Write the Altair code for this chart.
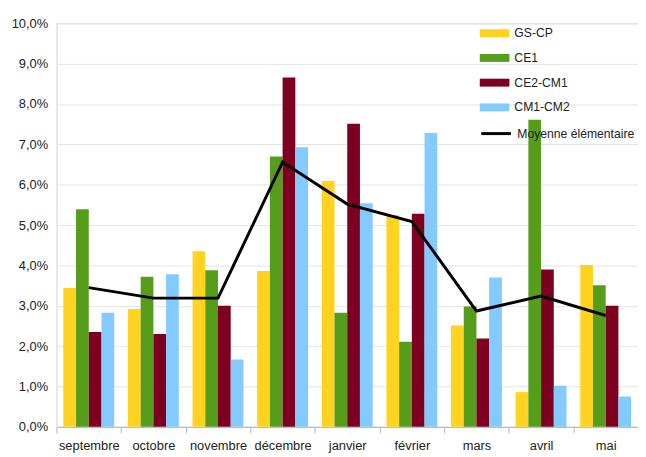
import altair as alt
import pandas as pd

months = ["septembre", "octobre", "novembre", "décembre", "janvier",
          "février", "mars", "avril", "mai"]
series = ["GS-CP", "CE1", "CE2-CM1", "CM1-CM2"]
colors = ["#FFD320", "#579D1C", "#7E0021", "#83CAFF"]

gs_cp = [3.44, 2.92, 4.35, 3.86, 6.09, 5.25, 2.51, 0.86, 4.01]
ce1 = [5.39, 3.72, 3.88, 6.70, 2.83, 2.11, 2.98, 7.61, 3.51]
ce2_cm1 = [2.35, 2.30, 3.00, 8.66, 7.51, 5.28, 2.19, 3.90, 3.00]
cm1_cm2 = [2.83, 3.78, 1.67, 6.93, 5.54, 7.28, 3.70, 1.02, 0.75]
moyenne = [3.45, 3.19, 3.19, 6.56, 5.52, 5.09, 2.87, 3.24, 2.76]
line_name = "Moyenne élémentaire"

rows = []
for name, vals in zip(series, [gs_cp, ce1, ce2_cm1, cm1_cm2]):
    for m, v in zip(months, vals):
        rows.append({"month": m, "series": name, "value": v})
bars_df = pd.DataFrame(rows)
line_df = pd.DataFrame({"month": months, "value": moyenne, "name": line_name})

FONT = "Liberation Sans"
TXT = "#222222"

x_enc = alt.X(
    "month:N", sort=months,
    scale=alt.Scale(paddingInner=0, paddingOuter=0),
    axis=alt.Axis(title=None, labelAngle=0, tickBand="extent", ticks=True,
                  tickSize=6, tickColor="#b3b3b3", domainColor="#b3b3b3",
                  labelFont=FONT, labelFontSize=13, labelColor=TXT,
                  labelPadding=7, grid=False),
)
y_enc = alt.Y(
    "value:Q",
    scale=alt.Scale(domain=[0, 10], nice=False),
    axis=alt.Axis(title=None, values=list(range(0, 11)), ticks=False,
                  labelExpr="replace(format(datum.value, '.1f'), '.', ',') + '%'",
                  labelFont=FONT, labelFontSize=13, labelColor=TXT,
                  labelPadding=9, grid=True, gridColor="#e3e3e3",
                  domainColor="#e3e3e3"),
)

rect_path = "M-1.5,-0.4H1.5V0.4H-1.5Z"

bars = alt.Chart(bars_df).mark_bar().encode(
    x=x_enc,
    y=y_enc,
    xOffset=alt.XOffset("series:N", sort=series,
                        scale=alt.Scale(paddingInner=0, paddingOuter=0.54)),
    color=alt.Color(
        "series:N", sort=series,
        scale=alt.Scale(domain=series, range=colors),
        legend=alt.Legend(title=None, orient="none", legendX=433, legendY=0,
                          symbolType=rect_path, symbolSize=400,
                          symbolStrokeWidth=0, labelFont=FONT,
                          labelFontSize=12.3, labelColor=TXT, labelOffset=10,
                          rowPadding=8, padding=0),
    ),
)

line = alt.Chart(line_df).mark_line(strokeWidth=3).encode(
    x=alt.X("month:N", sort=months),
    y=alt.Y("value:Q"),
    stroke=alt.Stroke(
        "name:N",
        scale=alt.Scale(domain=[line_name], range=["#000000"]),
        legend=alt.Legend(title=None, orient="none", legendX=433, legendY=100,
                          symbolType="M-1.5,0H1.5", symbolSize=400,
                          symbolStrokeWidth=3, labelFont=FONT,
                          labelFontSize=12.3, labelColor=TXT, labelOffset=10,
                          padding=0),
    ),
)

chart = alt.layer(bars, line).properties(
    width=588, height=408,
    autosize=alt.AutoSizeParams(type="none"),
    padding={"left": 49, "top": 13, "right": 0, "bottom": 27},
).configure_view(stroke=None).configure(background="white")

chart.save("out.html", embed_options={"renderer": "svg", "actions": False})
